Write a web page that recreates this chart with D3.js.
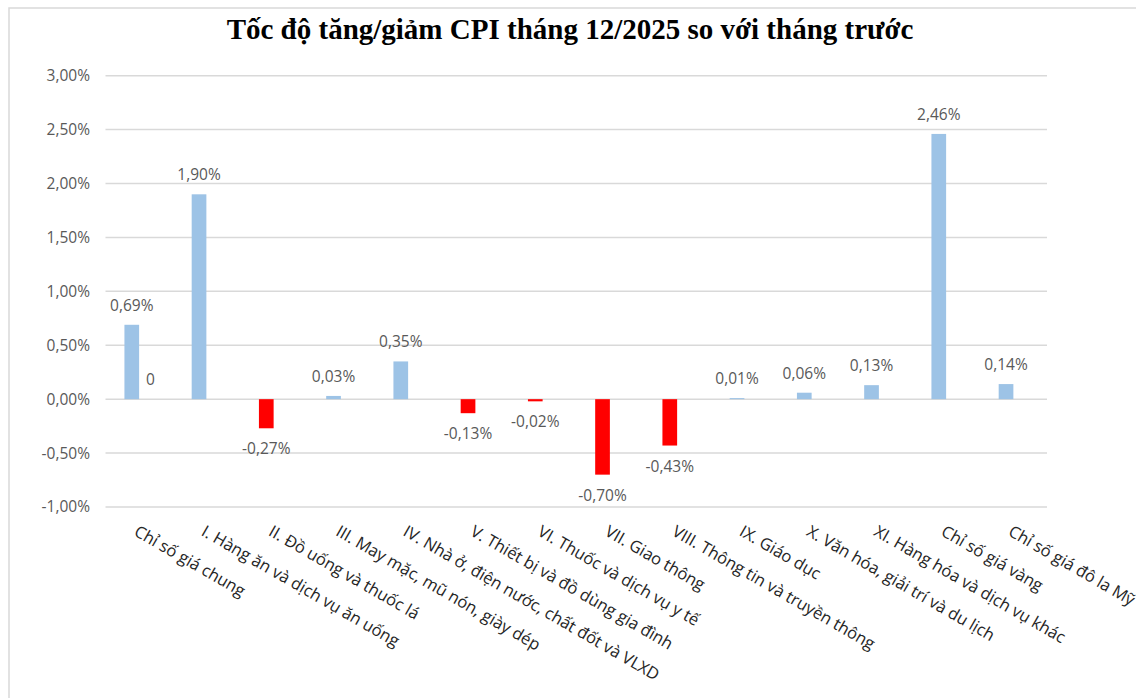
<!DOCTYPE html>
<html lang="vi">
<head>
    <meta charset="UTF-8">
    <title>Tốc độ tăng/giảm CPI tháng 12/2025</title>
    <script src="https://d3js.org/d3.v7.min.js"></script>
    <style>
        body {
            margin: 0;
            background: #fff;
            font-family: "Open Sans", sans-serif;
        }

        .grid line {
            stroke: #d9d9d9;
            stroke-width: 1.5px;
        }

        .tick-label {
            font-size: 15.5px;
            fill: #595959;
        }

        .value-label {
            font-size: 15.5px;
            fill: #595959;
        }

        .cat-label {
            font-size: 16.5px;
            fill: #262626;
        }

        .title {
            font-family: "Liberation Serif", "Times New Roman", serif;
            font-weight: bold;
            font-size: 29px;
            fill: #000;
        }
    </style>
</head>
<body>
    <svg id="chart"></svg>

    <script>
        // Danh mục (trục hoành)
        const categories = [
            "Chỉ số giá chung",
            "I. Hàng ăn và dịch vụ ăn uống",
            "II. Đồ uống và thuốc lá",
            "III. May mặc, mũ nón, giày dép",
            "IV. Nhà ở, điện nước, chất đốt và VLXD",
            "V. Thiết bị và đồ dùng gia đình",
            "VI. Thuốc và dịch vụ y tế",
            "VII. Giao thông",
            "VIII. Thông tin và truyền thông",
            "IX. Giáo dục",
            "X. Văn hóa, giải trí và du lịch",
            "XI. Hàng hóa và dịch vụ khác",
            "Chỉ số giá vàng",
            "Chỉ số giá đô la Mỹ"
        ];

        // Tốc độ tăng/giảm so với tháng trước (%)
        const changeValues = [0.69, 1.90, -0.27, 0.03, 0.35, -0.13, -0.02, -0.70, -0.43, 0.01, 0.06, 0.13, 2.46, 0.14];

        // Chuỗi thứ hai: chỉ có giá trị 0 ở danh mục đầu
        const secondValues = [0, null, null, null, null, null, null, null, null, null, null, null, null, null];

        const yTicks = [-1, -0.5, 0, 0.5, 1, 1.5, 2, 2.5, 3];

        const chartTitle = "Tốc độ tăng/giảm CPI tháng 12/2025 so với tháng trước";

        const W = 1136, H = 698;
        const plot = { left: 105.5, right: 1047, top: 75.7, bottom: 507 };

        const svg = d3.select("#chart")
            .attr("width", W)
            .attr("height", H);

        // Khung viền
        svg.append("path")
            .attr("d", `M9,${H} V8 H${W}`)
            .attr("fill", "none")
            .attr("stroke", "#d9d9d9")
            .attr("stroke-width", 1.5);

        svg.append("text")
            .attr("class", "title")
            .attr("x", 570)
            .attr("y", 39)
            .attr("text-anchor", "middle")
            .text(chartTitle);

        const x0 = d3.scaleBand()
            .domain(categories)
            .range([plot.left, plot.right])
            .paddingInner(0.563)
            .paddingOuter(0.2815);

        const x1 = d3.scaleBand()
            .domain(["s1", "s2"])
            .range([0, x0.bandwidth()]);

        const y = d3.scaleLinear()
            .domain([-1, 3])
            .range([plot.bottom, plot.top]);

        const fmt = v => (v < 0 ? "-" : "") + Math.abs(v).toFixed(2).replace(".", ",") + "%";

        // Lưới ngang
        svg.append("g")
            .attr("class", "grid")
            .selectAll("line")
            .data(yTicks)
            .join("line")
            .attr("x1", plot.left)
            .attr("x2", plot.right)
            .attr("y1", d => y(d))
            .attr("y2", d => y(d));

        // Nhãn trục tung
        svg.append("g")
            .selectAll("text")
            .data(yTicks)
            .join("text")
            .attr("class", "tick-label")
            .attr("x", 90)
            .attr("y", d => y(d))
            .attr("dy", "0.35em")
            .attr("text-anchor", "end")
            .text(d => fmt(d));

        // Cột
        svg.append("g")
            .selectAll("rect")
            .data(changeValues)
            .join("rect")
            .attr("x", (d, i) => x0(categories[i]) + x1("s1"))
            .attr("width", x1.bandwidth())
            .attr("y", d => y(Math.max(0, d)))
            .attr("height", d => Math.abs(y(d) - y(0)))
            .attr("fill", d => d < 0 ? "#ff0000" : "#9dc3e6");

        // Nhãn giá trị
        svg.append("g")
            .selectAll("text")
            .data(changeValues)
            .join("text")
            .attr("class", "value-label")
            .attr("x", (d, i) => x0(categories[i]) + x1("s1") + x1.bandwidth() / 2)
            .attr("y", d => d < 0 ? y(d) + 26 : y(d) - 14)
            .attr("text-anchor", "middle")
            .text(d => fmt(d));

        // Chuỗi thứ hai
        const second = secondValues
            .map((v, i) => ({ v, cat: categories[i] }))
            .filter(d => d.v !== null);

        svg.append("g")
            .selectAll("rect")
            .data(second)
            .join("rect")
            .attr("x", d => x0(d.cat) + x1("s2"))
            .attr("width", x1.bandwidth())
            .attr("y", d => y(Math.max(0, d.v)))
            .attr("height", d => Math.abs(y(d.v) - y(0)))
            .attr("fill", "#9dc3e6");

        svg.append("g")
            .selectAll("text")
            .data(second)
            .join("text")
            .attr("class", "value-label")
            .attr("x", d => x0(d.cat) + x1("s2") + x1.bandwidth() / 2 + 4)
            .attr("y", d => y(d.v) - 14)
            .attr("text-anchor", "middle")
            .text(d => String(d.v));

        // Nhãn danh mục (xoay 30 độ)
        svg.append("g")
            .selectAll("text")
            .data(categories)
            .join("text")
            .attr("class", "cat-label")
            .attr("transform", d => `translate(${x0(d) + x0.bandwidth() / 2},524) rotate(30)`)
            .attr("dy", "0.75em")
            .text(d => d);
    </script>
</body>
</html>
